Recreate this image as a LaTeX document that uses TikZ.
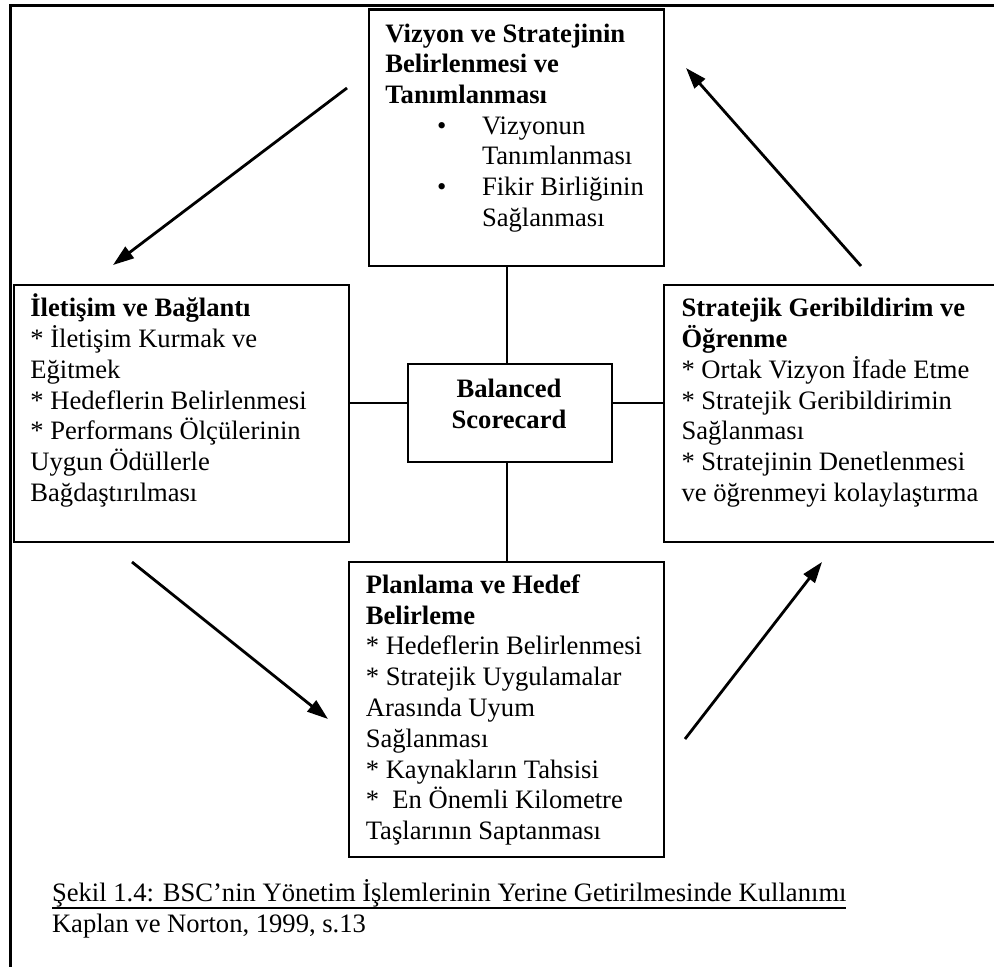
\documentclass[tikz,border=0pt]{standalone}
\usepackage{fontspec}
\setmainfont{Liberation Serif}
\usetikzlibrary{arrows.meta}

\tikzset{
  panel/.style={draw, line width=2.3pt, inner sep=0pt, outer sep=0pt},
  openpanel/.style={inner sep=0pt, outer sep=0pt},
  txt/.style={anchor=base west, inner sep=0pt, outer sep=0pt,
              font=\fontsize{26.6}{30.8}\selectfont},
  ctxt/.style={txt, anchor=base},
  link/.style={line width=2.3pt},
  flow/.style={line width=2.8pt, -{Triangle[length=21pt,width=14pt]}},
  frameline/.style={line width=3pt}
}

% one text node per line, baselines 30.8pt apart
\newcommand\blocklines[4]{%
  \foreach \lineText [count=\k] in {#4}{%
    \node[txt] (#1\k) at (#2,{#3+30.8*(\k-1)}) {\lineText};}}

\begin{document}
\begin{tikzpicture}[x=1pt,y=-1pt]
  \useasboundingbox (0,0) rectangle (994,967);
  \fill[white] (0,0) rectangle (994,967);

  % outer frame, open towards the right and bottom edges
  \draw[frameline] (10.7,967) -- (10.7,5.5) -- (994,5.5);

  % boxes
  \node[panel, minimum width=295.4pt, minimum height=256.3pt] (top) at (516.6,137.5) {};
  \node[panel, minimum width=334.8pt, minimum height=256.7pt] (lft) at (181.3,413.3) {};
  \node[openpanel, minimum width=329.7pt, minimum height=256.7pt] (rgt) at (829.15,413.3) {};
  \draw[link] (rgt.north east) -- (rgt.north west) -- (rgt.south west) -- (rgt.south east);
  \node[panel, minimum width=204.3pt, minimum height=98.3pt]  (bsc) at (509.85,413.15) {};
  \node[panel, minimum width=315.6pt, minimum height=295pt]   (bot) at (506.5,709.2) {};

  % spokes from the centre box
  \coordinate (hub) at (506.7,403.3);
  \draw[link] (hub |- top.south) -- (hub |- bsc.north);
  \draw[link] (hub |- bsc.south) -- (hub |- bot.north);
  \draw[link] (lft.east |- hub) -- (bsc.west |- hub);
  \draw[link] (bsc.east |- hub) -- (rgt.west |- hub);

  % cycle arrows
  \coordinate (a1s) at (347,88);   \coordinate (a1e) at (113,265);
  \coordinate (a2s) at (861,266);  \coordinate (a2e) at (686,68);
  \coordinate (a3s) at (132,562);  \coordinate (a3e) at (328,719);
  \coordinate (a4s) at (685,739);  \coordinate (a4e) at (822,562);
  \draw[flow] (a1s) -- (a1e);
  \draw[flow] (a2s) -- (a2e);
  \draw[flow] (a3s) -- (a3e);
  \draw[flow] (a4s) -- (a4e);

  % top box
  \blocklines{ttl}{385.4}{42}{{\textbf{Vizyon ve Stratejinin}},{\textbf{Belirlenmesi ve}},{\textbf{Tanımlanması}}}
  \node[txt] (bul1) at (437,134.1) {•};
  \node[txt] (bul2) at (437,195.7) {•};
  \blocklines{tit}{482}{134.1}{Vizyonun,Tanımlanması,Fikir Birliğinin,Sağlanması}

  % left box
  \blocklines{lt}{30.4}{316.7}{{\textbf{İletişim ve Bağlantı}},{* İletişim Kurmak ve},Eğitmek,{* Hedeflerin Belirlenmesi},{* Performans Ölçülerinin},{Uygun Ödüllerle},Bağdaştırılması}

  % right box
  \blocklines{rt}{681.5}{316.7}{{\textbf{Stratejik Geribildirim ve}},{\textbf{Öğrenme}},{* Ortak Vizyon İfade Etme},{* Stratejik Geribildirimin},Sağlanması,{* Stratejinin Denetlenmesi},{ve öğrenmeyi kolaylaştırma}}

  % centre box
  \node[ctxt] (c1) at (509,397.7) {\textbf{Balanced}};
  \node[ctxt] (c2) at (509,428) {\textbf{Scorecard}};

  % bottom box
  \blocklines{bt}{365.8}{593.3}{{\textbf{Planlama ve Hedef}},{\textbf{Belirleme}},{* Hedeflerin Belirlenmesi},{* Stratejik Uygulamalar},{Arasında Uyum},Sağlanması,{* Kaynakların Tahsisi},{* \ En Önemli Kilometre},{Taşlarının Saptanması}}

  % caption
  \node[txt] (cap) at (52,901.7) {Şekil 1.4: BSC’nin Yönetim İşlemlerinin Yerine Getirilmesinde Kullanımı};
  \draw[line width=2pt] ([yshift=-6pt]cap.base west) -- ([yshift=-6pt]cap.base east);
  \node[txt] (src) at (52,932.8) {Kaplan ve Norton, 1999, s.13};
\end{tikzpicture}
\end{document}
